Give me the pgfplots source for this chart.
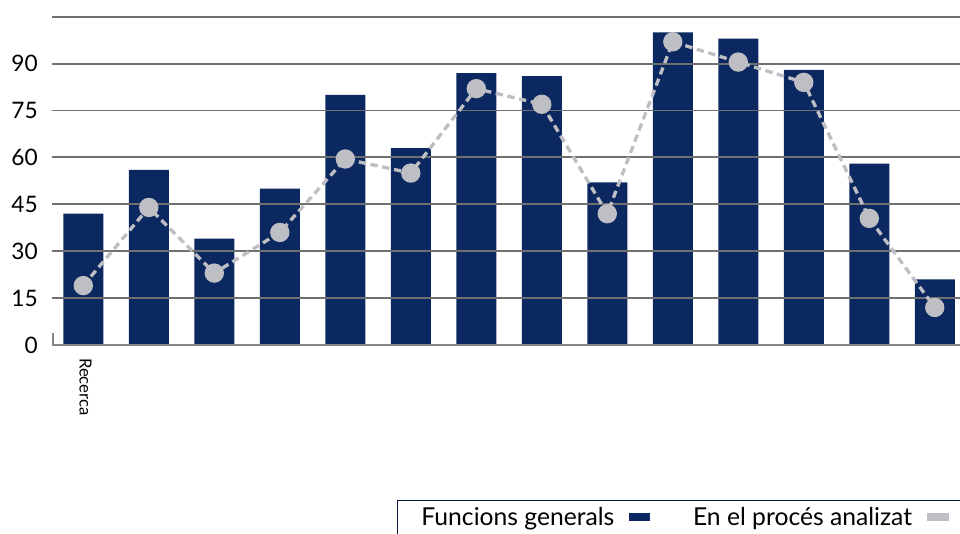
\documentclass[border=0pt]{standalone}
\usepackage{fontspec}
\setmainfont{Lato}
\usepackage{pgfplots}
\pgfplotsset{compat=1.18}
\definecolor{navy}{RGB}{12,40,96}
\definecolor{dotgray}{RGB}{190,191,196}
\definecolor{gridgray}{RGB}{112,112,112}
\begin{document}
\begin{tikzpicture}
\begin{axis}[
    at={(39pt,141pt)}, anchor=south west,
    scale only axis, width=681pt, height=246.2pt,
    xmin=-0.478, xmax=13.385, ymin=0, ymax=105,
    ytick={0,15,...,105}, yticklabels={0,15,30,45,60,75,90,{}},
    xtick={0}, xticklabels={Recerca},
    major tick length=0pt,
    axis line style={draw=none},
    clip=false,
    yticklabel style={font=\fontsize{17}{19}\selectfont, inner sep=0pt, xshift=-10.5pt},
    xticklabel style={font=\fontsize{12.5}{14}\selectfont, rotate=-90, anchor=west, inner sep=0pt, xshift=9.75pt, yshift=1.6pt},
    legend plot pos=right,
    legend columns=2,
    legend style={
        at={(0.3796,-0.471)}, anchor=north west,
        draw=navy!60!black, line width=1.1pt,
        font=\fontsize{18.5}{20}\selectfont,
        inner xsep=16pt, inner ysep=3pt,
        /tikz/every even column/.append style={column sep=30pt},
        /tikz/every odd column/.append style={column sep=9pt},
    },
]
% Funcions generals
\addplot[ybar, bar width=30pt, fill=navy, draw=none,
    legend image code/.code={\path[fill=navy, draw=none] (0pt,-3.3pt) rectangle (16pt,3.3pt);}]
coordinates {
    (0,42) (1,56) (2,34) (3,50) (4,80) (5,63) (6,87)
    (7,86) (8,52) (9,100) (10,98) (11,88) (12,58) (13,21)
};
\addlegendentry{Funcions generals}
% grid lines over the bars
\pgfplotsinvokeforeach{15,30,45,60,75,90,105}{
    \draw[gridgray, line width=1.4pt] (axis cs:-0.478,#1) -- (axis cs:13.385,#1);
}
\draw[gridgray!85, line width=2pt] (axis cs:-0.478,0) -- (axis cs:13.385,0);
\draw[gridgray!85, line width=1.6pt] (axis cs:-0.46,0) -- (axis cs:-0.46,3.8);
% En el proces analitzat
\addplot[dotgray, line width=2.5pt, dash pattern=on 5.5pt off 3.5pt,
    mark=*, mark size=6pt, mark options={solid, fill=dotgray, draw=none},
    legend image code/.code={
        \path[fill=dotgray, draw=none] (0pt,-3pt) rectangle (16.5pt,3pt);
        \path[draw=none, fill=none] (0pt,-16pt) rectangle (45pt,3pt);}]
coordinates {
    (0,19) (1,44) (2,23) (3,36) (4,59.5) (5,55) (6,82)
    (7,77) (8,42) (9,97) (10,90.5) (11,84) (12,40.5) (13,12)
};
\addlegendentry{En el procés analizat}
\end{axis}
\pgfresetboundingbox
\path[use as bounding box] (0,0) rectangle (720pt,399.75pt);
\end{tikzpicture}
\end{document}
